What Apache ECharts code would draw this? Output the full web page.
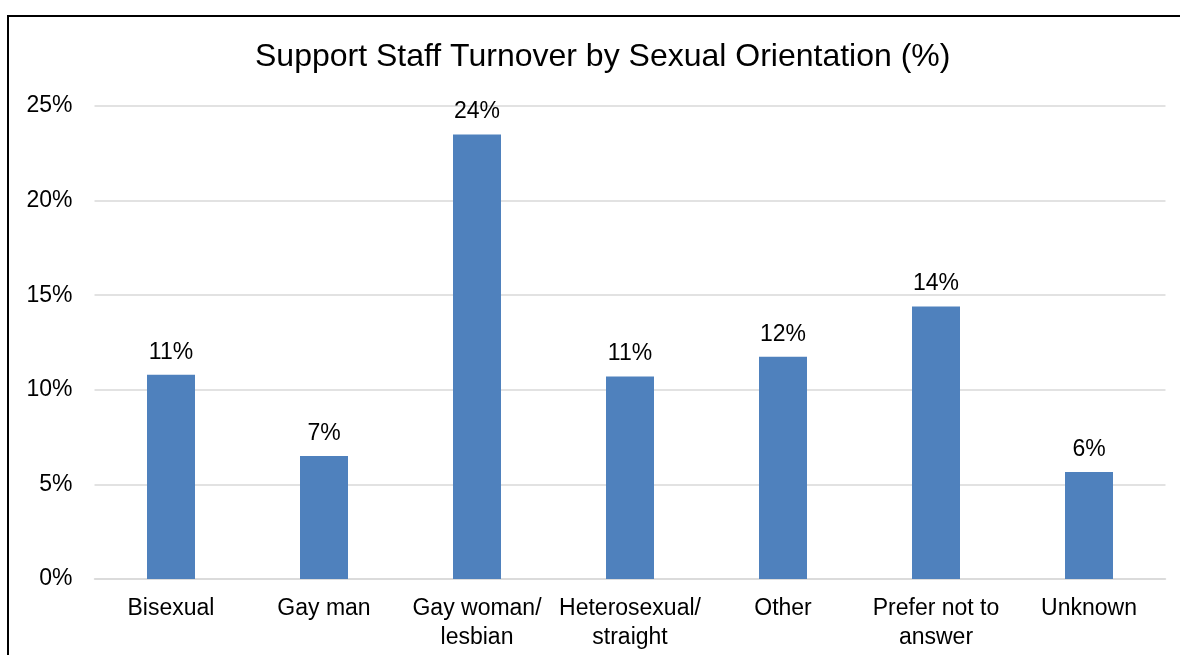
<!DOCTYPE html>
<html>
<head>
<meta charset="utf-8">
<title>Support Staff Turnover by Sexual Orientation (%)</title>
<script src="https://cdn.jsdelivr.net/npm/echarts@6/dist/echarts.min.js"></script>
<style>
  html, body { margin: 0; padding: 0; background: #fff; }
  #chart { width: 1180px; height: 655px; }
</style>
</head>
<body>
<div id="chart"></div>
<script>
// Turnover rate per group, in percent
const categories = [
  'Bisexual',
  'Gay man',
  'Gay woman/\nlesbian',
  'Heterosexual/\nstraight',
  'Other',
  'Prefer not to\nanswer',
  'Unknown'
];
const turnover = [10.8, 6.5, 23.5, 10.7, 11.75, 14.4, 5.65];
const yTicks = { min: 0, max: 25, step: 5 };

const FONT = '"Liberation Sans", Arial, sans-serif';

const chart = echarts.init(document.getElementById('chart'), null, { renderer: 'canvas' });

chart.setOption({
  animation: false,
  backgroundColor: '#ffffff',
  title: {
    text: 'Support Staff Turnover by Sexual Orientation (%)',
    left: 255,
    top: 38,
    padding: 0,
    textStyle: {
      fontFamily: FONT,
      fontSize: 32,
      fontWeight: 'normal',
      color: '#000000',
      lineHeight: 38
    }
  },
  grid: {
    left: 94.5,
    right: 14.5,
    top: 106,
    bottom: 76,
    containLabel: false
  },
  xAxis: {
    type: 'category',
    data: categories,
    axisTick: { show: false },
    axisLine: { lineStyle: { color: '#d9d9d9', width: 1.5 } },
    axisLabel: {
      interval: 0,
      margin: 15,
      fontFamily: FONT,
      fontSize: 23,
      lineHeight: 29,
      color: '#000000'
    }
  },
  yAxis: {
    type: 'value',
    min: yTicks.min,
    max: yTicks.max,
    interval: yTicks.step,
    axisLine: { show: false },
    axisTick: { show: false },
    splitLine: { lineStyle: { color: '#d9d9d9', width: 1.5 } },
    axisLabel: {
      margin: 22,
      fontFamily: FONT,
      fontSize: 23,
      color: '#000000',
      padding: [3, 0, 0, 0],
      formatter: '{value}%'
    }
  },
  series: [{
    type: 'bar',
    data: turnover,
    barWidth: 48,
    itemStyle: { color: '#4f81bd' },
    label: {
      show: true,
      position: 'top',
      distance: 8,
      fontFamily: FONT,
      fontSize: 23,
      lineHeight: 29,
      color: '#000000',
      formatter: p => Math.round(p.value) + '%'
    }
  }],
  graphic: [
    {
      type: 'line',
      shape: { x1: 7, y1: 16, x2: 1180, y2: 16 },
      style: { stroke: '#000000', lineWidth: 2 }
    },
    {
      type: 'line',
      shape: { x1: 8, y1: 15, x2: 8, y2: 655 },
      style: { stroke: '#000000', lineWidth: 2 }
    }
  ]
});
</script>
</body>
</html>
